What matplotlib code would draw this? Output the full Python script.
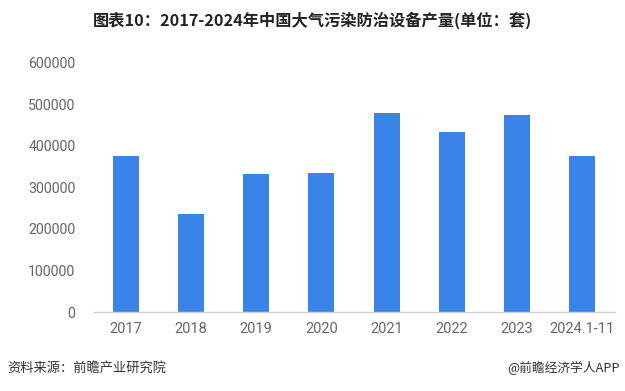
import matplotlib
matplotlib.use("Agg")
import matplotlib.pyplot as plt

plt.rcParams['font.family'] = ['Noto Sans CJK SC', 'DejaVu Sans']

# data
categories = ["2017", "2018", "2019", "2020", "2021", "2022", "2023", "2024.1-11"]
output_sets = [375000, 236000, 332000, 334000, 479000, 433000, 474000, 375000]
y_ticks = [0, 100000, 200000, 300000, 400000, 500000, 600000]

title = "图表10：2017-2024年中国大气污染防治设备产量(单位：套)"
source = "资料来源：前瞻产业研究院"
credit = "@前瞻经济学人APP"

bar_color = "#3a84e8"
text_grey = "#666666"

fig = plt.figure(figsize=(6.25, 3.91), dpi=100)
ax = fig.add_axes([0.1496, 0.202, 0.8336, 0.6376])

x = range(len(categories))
ax.bar(x, output_sets, width=0.4, color=bar_color, zorder=2)

ax.set_xlim(-0.5, len(categories) - 0.5)
ax.set_ylim(0, 600000)
ax.set_yticks(y_ticks)
ax.set_yticklabels([str(v) for v in y_ticks])
ax.set_xticks(list(x))
ax.set_xticklabels(categories)

for side in ["top", "right", "left"]:
    ax.spines[side].set_visible(False)
ax.spines["bottom"].set_color("#d0d0d0")
ax.spines["bottom"].set_linewidth(1.0)

ax.tick_params(axis="y", length=0, pad=13, labelsize=10.2, labelcolor=text_grey)
ax.tick_params(axis="x", length=0, pad=7, labelsize=10.5, labelcolor=text_grey)
for lab in ax.get_xticklabels() + ax.get_yticklabels():
    lab.set_family(["Roboto", "DejaVu Sans"])

fig.text(0.5, 0.948, title, ha="center", va="center", fontsize=11.7,
         fontweight="bold", color="#222222")
fig.text(0.011, 0.058, source, ha="left", va="center", fontsize=9.5, color="#333333")
fig.text(0.992, 0.058, credit, ha="right", va="center", fontsize=9.2, color="#333333")

fig.savefig("out.png", dpi=100)
